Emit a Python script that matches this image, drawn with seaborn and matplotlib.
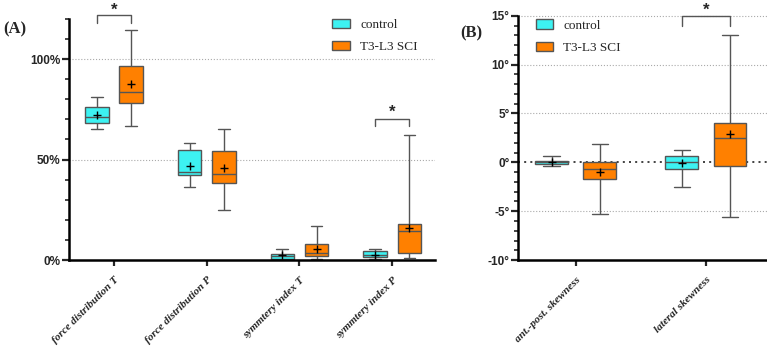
import numpy as np
import pandas as pd
import matplotlib
matplotlib.use("Agg")
import matplotlib.pyplot as plt
import matplotlib.ticker as mticker
import seaborn as sns

# groups and colours
groups = ['control', 'T3-L3 SCI']
colors = ['#3DF2F2', '#FF8000']

# panel A: five-number summaries (percent)
a_cats = ['force distribution T', 'force distribution P', 'symmtery index T', 'symmtery index P']
a_ctrl_min = [65.3, 36.2, 0.0, 0.5]
a_ctrl_q1 = [68.3, 42.2, 0.7, 1.5]
a_ctrl_med = [71.0, 43.8, 2.0, 2.5]
a_ctrl_q3 = [76.0, 54.7, 3.2, 4.5]
a_ctrl_max = [81.0, 58.0, 5.7, 5.5]
a_ctrl_mean = [72.0, 46.7, 2.3, 2.7]
a_sci_min = [66.7, 25.0, 0.5, 1.0]
a_sci_q1 = [78.2, 38.2, 2.0, 3.3]
a_sci_med = [83.8, 42.8, 3.3, 14.7]
a_sci_q3 = [96.7, 54.2, 7.8, 18.0]
a_sci_max = [114.7, 65.2, 17.0, 62.0]
a_sci_mean = [87.8, 45.7, 5.5, 16.0]

# panel B: five-number summaries (degrees)
b_cats = ['ant.-post. skewness', 'lateral skewness']
b_ctrl_min = [-0.38, -2.55]
b_ctrl_q1 = [-0.20, -0.65]
b_ctrl_med = [0.05, 0.0]
b_ctrl_q3 = [0.16, 0.67]
b_ctrl_max = [0.67, 1.29]
b_ctrl_mean = [0.0, -0.1]
b_sci_min = [-5.3, -5.58]
b_sci_q1 = [-1.67, -0.35]
b_sci_med = [-0.71, 2.48]
b_sci_q3 = [0.06, 4.04]
b_sci_max = [1.87, 13.0]
b_sci_mean = [-0.96, 2.86]


def long_table(cats, ctrl, sci):
    # five values per box -> quartiles / min / max come out exactly
    rows = []
    for g, stats in zip(groups, [ctrl, sci]):
        for i, c in enumerate(cats):
            for s in stats:
                rows.append((c, g, s[i]))
    return pd.DataFrame(rows, columns=['cat', 'group', 'val'])


def mean_table(cats, ctrl_mean, sci_mean):
    rows = [(c, groups[0], m) for c, m in zip(cats, ctrl_mean)]
    rows += [(c, groups[1], m) for c, m in zip(cats, sci_mean)]
    return pd.DataFrame(rows, columns=['cat', 'group', 'val'])


df_a = long_table(a_cats,
                  [a_ctrl_min, a_ctrl_q1, a_ctrl_med, a_ctrl_q3, a_ctrl_max],
                  [a_sci_min, a_sci_q1, a_sci_med, a_sci_q3, a_sci_max])
df_b = long_table(b_cats,
                  [b_ctrl_min, b_ctrl_q1, b_ctrl_med, b_ctrl_q3, b_ctrl_max],
                  [b_sci_min, b_sci_q1, b_sci_med, b_sci_q3, b_sci_max])
mean_a = mean_table(a_cats, a_ctrl_mean, a_sci_mean)
mean_b = mean_table(b_cats, b_ctrl_mean, b_sci_mean)

sns.set_style('ticks')
serif = 'Liberation Serif'
sans = 'Liberation Sans'

fig = plt.figure(figsize=(7.67, 3.5), dpi=100)
axA = fig.add_axes([0.090, 0.257, 0.477, 0.689])
axB = fig.add_axes([0.675, 0.257, 0.325, 0.698])

grey = '#555555'


def draw_panel(ax, df, means):
    sns.boxplot(data=df, x='cat', y='val', hue='group', ax=ax, whis=(0, 100),
                width=0.74, gap=0.32, palette=colors, saturation=1,
                linecolor=grey, linewidth=1.0, showfliers=False)
    sns.pointplot(data=means, x='cat', y='val', hue='group', ax=ax,
                  palette=['black', 'black'], markers='+', linestyles='none',
                  dodge=0.37, errorbar=None, markersize=6, markeredgewidth=1.0,
                  legend=False, zorder=5)
    ax.set_xlabel('')
    ax.set_ylabel('')
    for s in ['top', 'right']:
        ax.spines[s].set_visible(False)
    for s in ['left', 'bottom']:
        ax.spines[s].set_linewidth(1.8)
        ax.spines[s].set_color('black')
    ax.tick_params(axis='y', which='major', length=5, width=1.6, labelsize=8.5, pad=1)
    ax.tick_params(axis='y', which='minor', length=3, width=1.2)
    ax.tick_params(axis='x', which='major', length=4, width=1.6, pad=7)
    ax.set_xticks(range(len(df['cat'].unique())))
    ax.set_xticklabels(df['cat'].unique(), rotation=45, ha='right',
                       rotation_mode='anchor', fontfamily=serif,
                       fontweight='bold', fontstyle='italic', fontsize=8)
    leg = ax.legend(frameon=False, prop={'family': serif, 'size': 9.5},
                    handlelength=1.3, handleheight=0.7, labelspacing=0.75,
                    handletextpad=0.8, borderpad=0, borderaxespad=0,
                    loc='upper left')
    for h in leg.legend_handles:
        h.set_edgecolor(grey)
        h.set_linewidth(1.0)
    return leg


def bracket(ax, x, y0, y1, ystar, dx=0.185):
    ax.plot([x - dx, x - dx, x + dx, x + dx], [y0, y1, y1, y0],
            color=grey, lw=1.0, clip_on=False)
    ax.text(x, ystar, '*', ha='center', va='center', fontsize=12,
            fontweight='bold', fontfamily=sans, clip_on=False)


# panel A
legA = draw_panel(axA, df_a, mean_a)
legA.set_bbox_to_anchor((0.72, 1.0), transform=axA.transAxes)
axA.set_ylim(0, 120)
axA.set_xlim(-0.485, 3.46)
axA.yaxis.set_major_locator(mticker.FixedLocator([0, 50, 100]))
axA.yaxis.set_minor_locator(mticker.MultipleLocator(10))
axA.yaxis.set_major_formatter(mticker.FuncFormatter(lambda v, p: f'{v:.0f}%'))
for g in [50, 100]:
    axA.axhline(g, color='#aaaaaa', lw=0.8, ls=':', zorder=0)
bracket(axA, 0, 118, 121.7, 124.5)
bracket(axA, 3, 66.5, 70, 73.5)

# panel B
legB = draw_panel(axB, df_b, mean_b)
legB.set_bbox_to_anchor((0.072, 0.985), transform=axB.transAxes)
axB.set_ylim(-10, 15)
axB.set_xlim(-0.446, 1.47)
axB.yaxis.set_major_locator(mticker.MultipleLocator(5))
axB.yaxis.set_minor_locator(mticker.MultipleLocator(1))
axB.yaxis.set_major_formatter(mticker.FuncFormatter(lambda v, p: f'{v:.0f}°'))
for g in [-5, 5, 10, 15]:
    axB.axhline(g, color='#aaaaaa', lw=0.8, ls=':', zorder=0, clip_on=False)
axB.axhline(0, color='#222222', lw=1.2, ls=(0, (1.2, 2.5)), zorder=0)
bracket(axB, 1, 14.0, 15.0, 15.6)

for ax in [axA, axB]:
    for lab in ax.get_yticklabels():
        lab.set_fontfamily(sans)
        lab.set_fontweight('bold')

fig.text(0.004, 1 - 29 / 350, '(A)', fontfamily=serif, fontweight='bold',
         fontsize=12, va='center')
fig.text(460 / 767, 1 - 33 / 350, '(B)', fontfamily=serif, fontweight='bold',
         fontsize=12, va='center')

fig.savefig('out.png', dpi=100)
